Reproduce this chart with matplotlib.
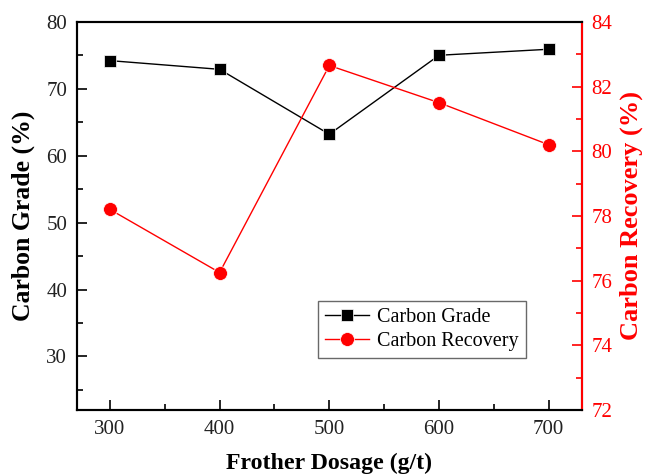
import matplotlib.pyplot as plt
from matplotlib.ticker import MultipleLocator

# frother dosage series
dosage = [300, 400, 500, 600, 700]
carbon_grade = [74.2, 72.9, 63.2, 75.0, 75.9]
carbon_recovery = [78.2, 76.25, 82.65, 81.5, 80.2]

plt.rcParams['font.family'] = ['Liberation Serif', 'DejaVu Serif']

fig = plt.figure(figsize=(6.47, 4.74), dpi=100)
ax = fig.add_axes([0.119, 0.135, 0.780, 0.819])
ax2 = ax.twinx()

l1, = ax.plot(dosage, carbon_grade, color='black', lw=1, marker='s', ms=8,
              markeredgecolor='white', markeredgewidth=0.5, label='Carbon Grade')
l2, = ax2.plot(dosage, carbon_recovery, color='red', lw=1, marker='o', ms=10,
               markeredgecolor='white', markeredgewidth=0.5, label='Carbon Recovery')

ax.set_xlim(270, 730)
ax.set_ylim(22, 80)
ax2.set_ylim(72, 84)

ax.xaxis.set_major_locator(MultipleLocator(100))
ax.xaxis.set_minor_locator(MultipleLocator(50))
ax.yaxis.set_major_locator(MultipleLocator(10))
ax.yaxis.set_minor_locator(MultipleLocator(5))
ax2.yaxis.set_major_locator(MultipleLocator(2))
ax2.yaxis.set_minor_locator(MultipleLocator(1))

ax.tick_params(axis='both', which='major', direction='in', length=7, width=1.2,
               labelsize=15, pad=7, labelcolor='#222222')
ax.tick_params(axis='both', which='minor', direction='in', length=4, width=1.2)
ax.tick_params(axis='x', top=False, which='both')
ax2.tick_params(axis='y', which='major', direction='in', length=7, width=1.2,
                labelsize=15, colors='red', pad=7)
ax2.tick_params(axis='y', which='minor', direction='in', length=4, width=1.2,
                colors='red')

for s in ax.spines.values():
    s.set_linewidth(1.5)
for s in ax2.spines.values():
    s.set_linewidth(1.5)
ax2.spines['right'].set_color('red')

ax.set_xlabel('Frother Dosage (g/t)', fontsize=17.2, fontweight='bold', labelpad=10)
ax.set_ylabel('Carbon Grade (%)', fontsize=18.5, fontweight='bold', labelpad=8)
ax2.set_ylabel('Carbon Recovery (%)', fontsize=19, fontweight='bold', color='red',
               labelpad=5)

leg = ax.legend([l1, l2], ['Carbon Grade', 'Carbon Recovery'], loc='lower left',
                bbox_to_anchor=(0.477, 0.134), borderaxespad=0, fontsize=14.5,
                frameon=True, fancybox=False, edgecolor='#444444', handlelength=2.2,
                handletextpad=0.4, borderpad=0.35, labelspacing=0.25)
leg.get_frame().set_linewidth(1.0)

fig.savefig('out.png', dpi=100)
